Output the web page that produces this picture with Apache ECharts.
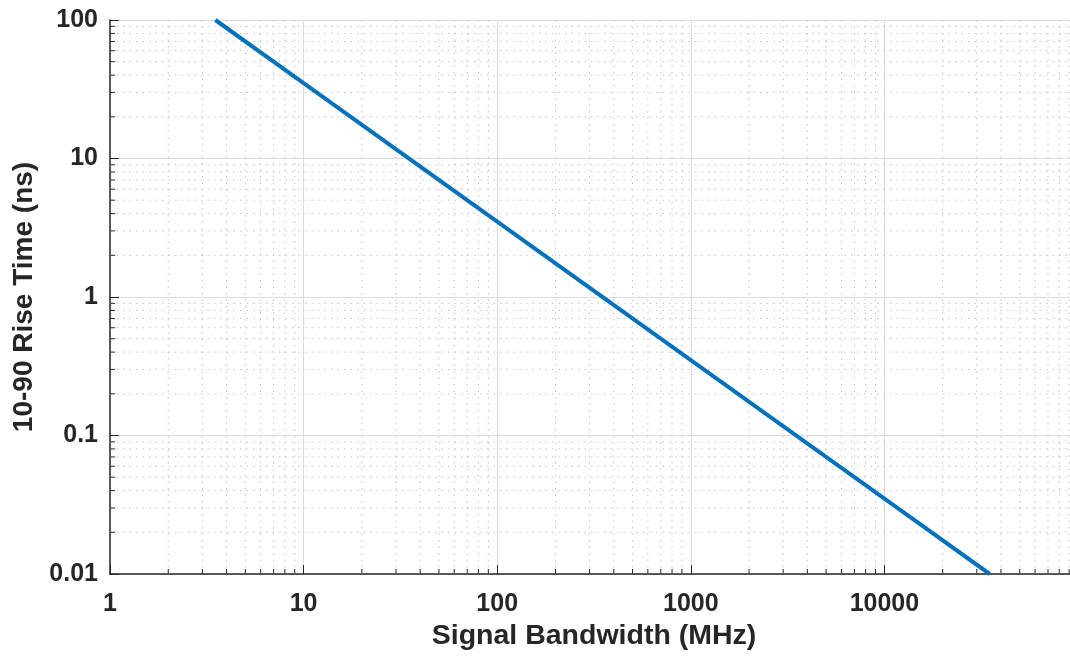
<!DOCTYPE html>
<html>
<head>
<meta charset="utf-8">
<script src="https://cdn.jsdelivr.net/npm/echarts@6/dist/echarts.min.js"></script>
<style>
  html, body { margin: 0; padding: 0; background: #fff; }
  #chart { width: 1070px; height: 656px; }
</style>
</head>
<body>
<div id="chart"></div>
<script>
// bandwidth (MHz) vs 10-90 rise time (ns)
var bandwidth = [3.5, 10, 100, 1000, 10000, 35000];
var riseTime = [100, 35, 3.5, 0.35, 0.035, 0.01];

// axis ranges / tick labels
var xRange = [1, 100000];
var yRange = [0.01, 100];
var xTickLabels = ['1', '10', '100', '1000', '10000'];
var yTickLabels = ['0.01', '0.1', '1', '10', '100'];

// minor grid positions 2..9 in every decade
function decadeMinors (lo, hi) {
  var out = [];
  for (var d = lo; d < hi; d *= 10) {
    for (var k = 2; k <= 9; k++) out.push(+(d * k).toPrecision(6));
  }
  return out;
}
var xMinor = decadeMinors(xRange[0], xRange[1]);
var yMinor = decadeMinors(yRange[0], yRange[1]);

var ink = '#262626';
var font = 'Liberation Sans, Arial, sans-serif';

function fmt (v) {
  return String(+(+v).toPrecision(6));
}

// dotted minor grid + short inside ticks
function minorX (params, api) {
  var v = api.value(0);
  var p0 = api.coord([v, yRange[0]]);
  var p1 = api.coord([v, yRange[1]]);
  return {
    type: 'group',
    children: [
      { type: 'line', shape: { x1: p0[0], y1: p0[1], x2: p1[0], y2: p1[1] },
        style: { stroke: '#c4c4c4', lineWidth: 1, lineDash: [1.5, 5] } },
      { type: 'line', shape: { x1: p0[0], y1: p0[1], x2: p0[0], y2: p0[1] - 5 },
        style: { stroke: ink, lineWidth: 1 } }
    ]
  };
}
function minorY (params, api) {
  var v = api.value(1);
  var p0 = api.coord([xRange[0], v]);
  var p1 = api.coord([xRange[1], v]);
  return {
    type: 'group',
    children: [
      { type: 'line', shape: { x1: p0[0], y1: p0[1], x2: p1[0], y2: p1[1] },
        style: { stroke: '#c4c4c4', lineWidth: 1, lineDash: [1.5, 5] } },
      { type: 'line', shape: { x1: p0[0], y1: p0[1], x2: p0[0] + 5, y2: p0[1] },
        style: { stroke: ink, lineWidth: 1 } }
    ]
  };
}

var myChart = echarts.init(document.getElementById('chart'));

var option = {
  animation: false,
  backgroundColor: '#fff',
  grid: {
    left: 110,
    right: -8,
    top: 20,
    bottom: 82,
    containLabel: false,
    outerBoundsMode: 'none'
  },
  xAxis: {
    type: 'log',
    logBase: 10,
    min: xRange[0],
    max: xRange[1],
    name: 'Signal Bandwidth (MHz)',
    nameLocation: 'middle',
    nameGap: 43,
    nameTextStyle: { color: ink, fontSize: 28.5, fontWeight: 'bold', fontFamily: font },
    axisLine: { show: true, lineStyle: { color: ink, width: 1.5 } },
    axisTick: { show: true, inside: true, length: 9, lineStyle: { color: ink, width: 1 } },
    axisLabel: {
      color: ink, fontSize: 25, fontWeight: 'bold', fontFamily: font, margin: 18,
      formatter: function (v) {
        var s = fmt(v);
        return xTickLabels.indexOf(s) >= 0 ? s : '';
      }
    },
    splitLine: { show: true, lineStyle: { color: '#dcdcdc', width: 1 } }
  },
  yAxis: {
    type: 'log',
    logBase: 10,
    min: yRange[0],
    max: yRange[1],
    name: '10-90 Rise Time (ns)',
    nameLocation: 'middle',
    nameGap: 64,
    nameTextStyle: { color: ink, fontSize: 28, fontWeight: 'bold', fontFamily: font },
    axisLine: { show: true, lineStyle: { color: ink, width: 1.5 } },
    axisTick: { show: true, inside: true, length: 9, lineStyle: { color: ink, width: 1 } },
    axisLabel: {
      color: ink, fontSize: 25, fontWeight: 'bold', fontFamily: font, margin: 12,
      formatter: function (v) {
        var s = fmt(v);
        return yTickLabels.indexOf(s) >= 0 ? s : '';
      }
    },
    splitLine: { show: true, lineStyle: { color: '#dcdcdc', width: 1 } }
  },
  series: [
    {
      type: 'custom',
      renderItem: minorX,
      data: xMinor.map(function (v) { return [v, 1]; }),
      encode: { x: 0, y: 1 },
      silent: true,
      z: 1
    },
    {
      type: 'custom',
      renderItem: minorY,
      data: yMinor.map(function (v) { return [1, v]; }),
      encode: { x: 0, y: 1 },
      silent: true,
      z: 1
    },
    {
      type: 'line',
      data: bandwidth.map(function (b, i) { return [b, riseTime[i]]; }),
      showSymbol: false,
      lineStyle: { color: '#0072BD', width: 4 },
      z: 5
    }
  ]
};

myChart.setOption(option);
</script>
</body>
</html>
